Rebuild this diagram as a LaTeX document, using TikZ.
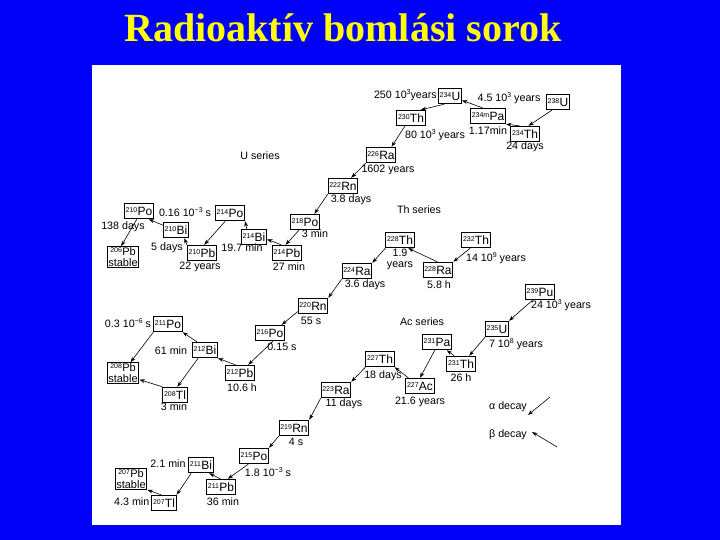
\documentclass[tikz,border=0pt]{standalone}
\usepackage{fontspec}
\setmainfont{Liberation Sans}
\newfontfamily\titlefont{Liberation Serif}
\usetikzlibrary{arrows.meta}
\definecolor{slideblue}{RGB}{0,0,250}
\definecolor{titleyellow}{RGB}{255,255,0}
\newcommand\nuc[2]{\raisebox{2.8pt}{\fontsize{7}{8}\selectfont #1}\kern0.3pt#2}
\newcommand\ex[1]{\raisebox{3.6pt}{\fontsize{7}{8}\selectfont #1}}
\begin{document}
\begin{tikzpicture}[x=1pt,y=-1pt,
  iso/.style={draw, line width=0.9pt, fill=white, inner xsep=1.2pt, inner ysep=1.2pt,
    minimum height=15.5pt, font=\fontsize{12}{13}\selectfont},
  isotwo/.style={iso, align=center, inner ysep=1pt, font=\fontsize{11}{10.5}\selectfont},
  lab/.style={font=\fontsize{10.7}{11}\selectfont, inner sep=0pt},
  dec/.style={-{Stealth[length=5.5pt,width=3.8pt]}, line width=0.6pt},
  ttl/.style={font=\titlefont\bfseries\fontsize{40}{44}\selectfont, text=titleyellow, inner sep=0pt, anchor=base}]
\useasboundingbox (0,0) rectangle (720,540);
\fill[slideblue] (0,0) rectangle (720,540);
\fill[white] (92,65) rectangle (621,525);
\node[ttl] (title) at (343,42) {Radioaktív bomlási sorok};

% ---------- U series ----------
\node[iso] (U238) at (558,102) {\nuc{238}{U}};
\node[iso] (Th234) at (525,134) {\nuc{234}{Th}};
\node[iso] (Pa234) at (488,116) {\nuc{234m}{Pa}};
\node[iso] (U234) at (450,96) {\nuc{234}{U}};
\node[iso] (Th230) at (411,118) {\nuc{230}{Th}};
\node[iso] (Ra226) at (381,155) {\nuc{226}{Ra}};
\node[iso] (Rn222) at (343,186) {\nuc{222}{Rn}};
\node[iso] (Po218) at (305,222) {\nuc{218}{Po}};
\node[iso] (Pb214) at (287,253) {\nuc{214}{Pb}};
\node[iso] (Bi214) at (254,237) {\nuc{214}{Bi}};
\node[iso] (Po214) at (230,213) {\nuc{214}{Po}};
\node[iso] (Pb210) at (202,253) {\nuc{210}{Pb}};
\node[iso] (Bi210) at (176,230) {\nuc{210}{Bi}};
\node[iso] (Po210) at (139,211) {\nuc{210}{Po}};
\node[isotwo] (Pb206) at (123,257) {\nuc{206}{Pb}\\stable};

\node[lab, anchor=east] (tU234) at (437,95) {250 10\ex{3}years};
\node[lab] (tU238) at (509,98) {4.5 10\ex{3} years};
\node[lab] (tTh234) at (525,147) {24 days};
\node[lab] (tPa234) at (488,131) {1.17min};
\node[lab] (tTh230) at (435,135) {80 10\ex{3} years};
\node[lab] (tRa226) at (388,170) {1602 years};
\node[lab] (tRn222) at (351,200) {3.8 days};
\node[lab] (tPo218) at (315,234) {3 min};
\node[lab] (tPb214) at (289,267) {27 min};
\node[lab] (tBi214) at (242,248) {19.7 min};
\node[lab] (tPb210) at (200,267) {22 years};
\node[lab] (tBi210) at (167,248) {5 days};
\node[lab] (tPo214) at (185,212) {0.16 10\ex{−3} s};
\node[lab] (tPo210) at (123,227) {138 days};
\node[lab] (Useries) at (260,156) {U series};

\draw[dec] (U238.233) -- (Th234.67);
\draw[dec] (Th234.125) -- (Pa234.south east);
\draw[dec] (Pa234.124) -- (U234.-20);
\draw[dec] (U234.235) -- (Th230.40);
\draw[dec] (Th230.233) -- (Ra226.38);
\draw[dec] (Ra226.south west) -- (Rn222.45);
\draw[dec] (Rn222.south west) -- (Po218.41);
\draw[dec] (Po218.234) -- (Pb214.100);
\draw[dec] (Pb214.125) -- (Bi214.-10);
\draw[dec] (Bi214.131) -- (Po214.south east);
\draw[dec] (Po214.240) -- (Pb210.75);
\draw[dec] (Pb210.north west) -- (Bi210.-45);
\draw[dec] (Bi210.160) -- (Po210.-40);
\draw[dec] (Po210.255) -- (Pb206.100);

% ---------- Th series ----------
\node[iso] (Th232) at (476,240) {\nuc{232}{Th}};
\node[iso] (Ra228) at (438,270) {\nuc{228}{Ra}};
\node[iso] (Th228) at (400,240) {\nuc{228}{Th}};
\node[iso] (Ra224) at (357,271) {\nuc{224}{Ra}};
\node[iso] (Rn220) at (313,306) {\nuc{220}{Rn}};
\node[iso] (Po216) at (270,333) {\nuc{216}{Po}};
\node[iso] (Pb212) at (240,373) {\nuc{212}{Pb}};
\node[iso] (Bi212) at (205,350) {\nuc{212}{Bi}};
\node[iso] (Po211) at (168,324) {\nuc{211}{Po}};
\node[isotwo] (Pb208) at (123,373) {\nuc{208}{Pb}\\stable};
\node[iso] (Tl208) at (175,395) {\nuc{208}{Tl}};

\node[lab] (Thseries) at (419,210) {Th series};
\node[lab] (tTh232) at (496,258) {14 10\ex{9} years};
\node[lab] (tRa228) at (439,285) {5.8 h};
\node[lab, align=center] (tTh228) at (400,259) {1.9\\years};
\node[lab] (tRa224) at (365,285) {3.6 days};
\node[lab] (tRn220) at (311,321) {55 s};
\node[lab] (tPo216) at (282,347) {0.15 s};
\node[lab] (tPb212) at (242,388) {10.6 h};
\node[lab] (tBi212) at (171,351) {61 min};
\node[lab] (tPo211) at (128,323) {0.3 10\ex{−6} s};
\node[lab] (tTl208) at (174,407) {3 min};

\draw[dec] (Th232.235) -- (Ra228.north east);
\draw[dec] (Ra228.95) -- (Th228.-45);
\draw[dec] (Th228.south west) -- (Ra224.north east);
\draw[dec] (Ra224.south west) -- (Rn220.north east);
\draw[dec] (Rn220.200) -- (Po216.35);
\draw[dec] (Po216.290) -- (Pb212.45);
\draw[dec] (Pb212.120) -- (Bi212.south east);
\draw[dec] (Bi212.135) -- (Po211.south east);
\draw[dec] (Po211.south west) -- (Pb208.55);
\draw[dec] (Bi212.230) -- (Tl208.74);
\draw[dec] (Tl208.north west) -- (Pb208.-22);

% ---------- Ac series ----------
\node[iso] (Pu239) at (540,292) {\nuc{239}{Pu}};
\node[iso] (U235) at (497,329) {\nuc{235}{U}};
\node[iso] (Th231) at (461,364) {\nuc{231}{Th}};
\node[iso] (Pa231) at (437,342) {\nuc{231}{Pa}};
\node[iso] (Ac227) at (420,386) {\nuc{227}{Ac}};
\node[iso] (Th227) at (380,359) {\nuc{227}{Th}};
\node[iso] (Ra223) at (336,390) {\nuc{223}{Ra}};
\node[iso] (Rn219) at (294,428) {\nuc{219}{Rn}};
\node[iso] (Po215) at (254,456) {\nuc{215}{Po}};
\node[iso] (Pb211) at (221,487) {\nuc{211}{Pb}};
\node[iso] (Bi211) at (201,465) {\nuc{211}{Bi}};
\node[iso] (Tl207) at (164,503) {\nuc{207}{Tl}};
\node[isotwo] (Pb207) at (131,479) {\nuc{207}{Pb}\\stable};

\node[lab] (Acseries) at (422,322) {Ac series};
\node[lab] (tPu239) at (561,305) {24 10\ex{3} years};
\node[lab] (tU235) at (516,344) {7 10\ex{8} years};
\node[lab] (tTh231) at (461,378) {26 h};
\node[lab] (tAc227) at (420,402) {21.6 years};
\node[lab] (tTh227) at (383,376) {18 days};
\node[lab] (tRa223) at (344,404) {11 days};
\node[lab] (tRn219) at (296,442) {4 s};
\node[lab] (tPo215) at (268,472) {1.8 10\ex{−3} s};
\node[lab] (tPb211) at (223,502) {36 min};
\node[lab] (tBi211) at (168,464) {2.1 min};
\node[lab, anchor=east] (tTl207) at (149.5,502) {4.3 min};

\draw[dec] (Pu239.228) -- (U235.north east);
\draw[dec] (U235.south west) -- (Th231.45);
\draw[dec] (Th231.130) -- (Pa231.-40);
\draw[dec] (Pa231.255) -- (Ac227.90);
\draw[dec] (Ac227.145) -- (Th227.south east);
\draw[dec] (Th227.south west) -- (Ra223.north east);
\draw[dec] (Ra223.south west) -- (Rn219.north east);
\draw[dec] (Rn219.south west) -- (Po215.north east);
\draw[dec] (Po215.235) -- (Pb211.50);
\draw[dec] (Pb211.95) -- (Bi211.-45);
\draw[dec] (Bi211.220) -- (Tl207.north east);
\draw[dec] (Tl207.110) -- (Pb207.south east);

% ---------- legend ----------
\node[lab] (alpha) at (508,407) {α decay};
\coordinate (a1) at (550,397);
\coordinate (a2) at (528,415);
\draw[dec] (a1) -- (a2);
\node[lab] (beta) at (508,435) {β decay};
\coordinate (b1) at (557,447);
\coordinate (b2) at (532,432);
\draw[dec] (b1) -- (b2);
\end{tikzpicture}
\end{document}
